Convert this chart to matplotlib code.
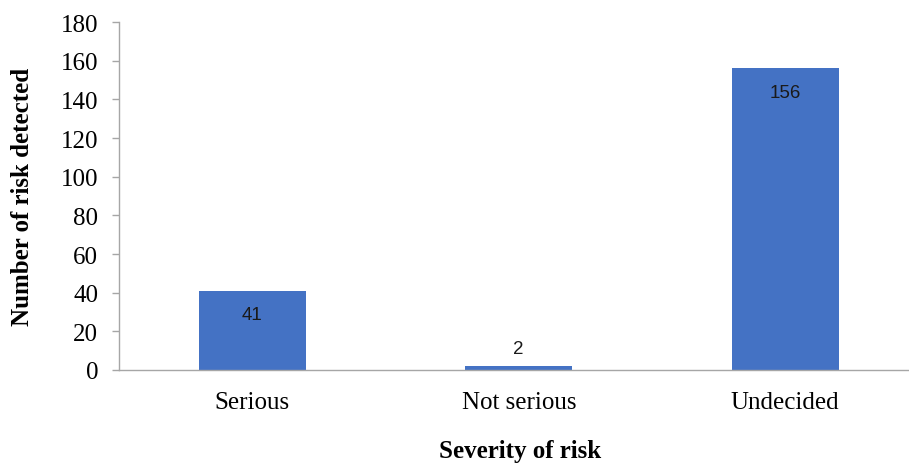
import matplotlib
matplotlib.use("Agg")
import matplotlib.pyplot as plt

categories = ["Serious", "Not serious", "Undecided"]
counts = [41, 2, 156]
y_ticks = [0, 20, 40, 60, 80, 100, 120, 140, 160, 180]

serif = ["Liberation Serif", "DejaVu Serif"]
sans = ["Liberation Sans", "DejaVu Sans"]
bar_color = "#4472C4"
spine_color = "#A6A6A6"

fig = plt.figure(figsize=(9.09, 4.64), dpi=100)
ax = fig.add_axes([119 / 909, 93 / 464, 790 / 909, 348 / 464])

x = list(range(len(categories)))
bars = ax.bar(x, counts, width=0.4, color=bar_color, zorder=2)

# value labels: inside the top of tall bars, above short ones
for xi, v in zip(x, counts):
    if v > 20:
        ax.annotate(str(v), (xi, v), xytext=(0, -17), textcoords="offset points",
                    ha="center", va="center", fontsize=13.5, family=sans, color="#1a1a1a")
    else:
        ax.annotate(str(v), (xi, v), xytext=(0, 13), textcoords="offset points",
                    ha="center", va="center", fontsize=13.5, family=sans, color="#1a1a1a")

ax.set_xlim(-0.5, 2.5 - 9.5 / 266.5)
ax.set_ylim(0, 180)
ax.set_yticks(y_ticks)
ax.set_yticklabels([str(t) for t in y_ticks], family=serif, fontsize=18)
ax.set_xticks(x)
ax.set_xticklabels(categories, family=serif, fontsize=18)

ax.tick_params(axis="y", length=5, width=1, color=spine_color, pad=10)
ax.tick_params(axis="x", length=0, pad=15)

for side in ("top", "right"):
    ax.spines[side].set_visible(False)
for side in ("left", "bottom"):
    ax.spines[side].set_color(spine_color)
    ax.spines[side].set_linewidth(1)

ax.set_xlabel("Severity of risk", family=serif, fontsize=18, fontweight="bold")
ax.xaxis.label.set_va("center")
ax.xaxis.set_label_coords((520 - 119) / 790, (371 - 452) / 348)
ax.set_ylabel("Number of risk detected", family=serif, fontsize=18, fontweight="bold")
ax.yaxis.label.set_va("center")
ax.yaxis.set_label_coords((22 - 119) / 790, 0.5)

fig.savefig("out.png", dpi=100)
